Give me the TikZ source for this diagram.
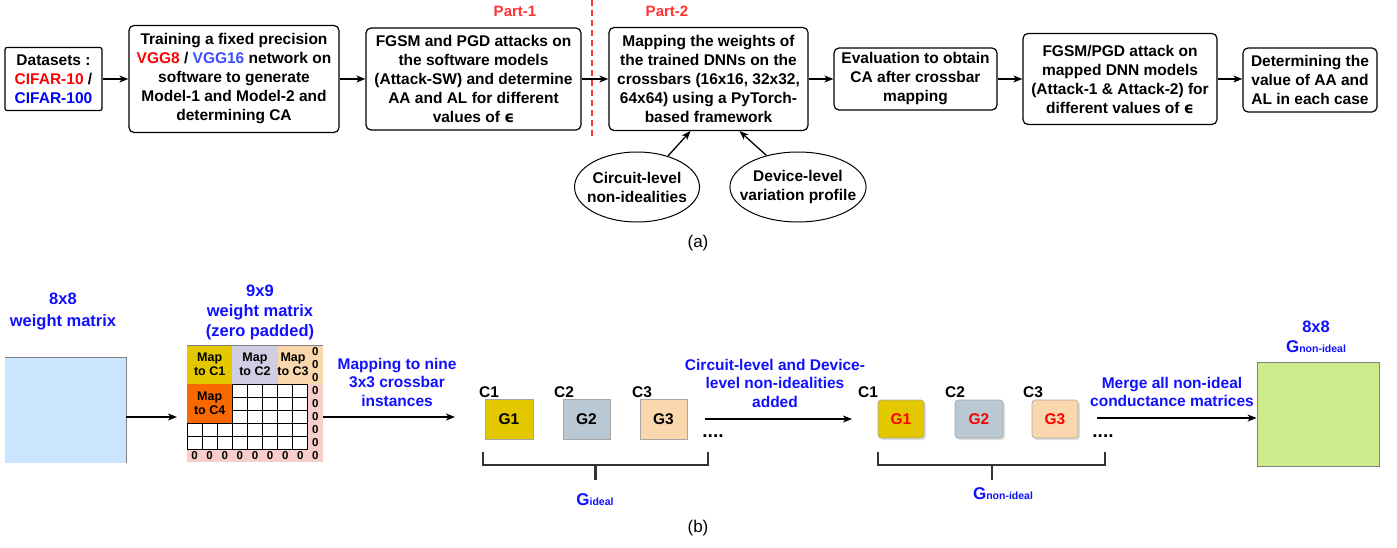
\documentclass[tikz,border=0pt]{standalone}
\usepackage{fontspec}
\setmainfont{Liberation Sans}
\newfontfamily\epsfont{DejaVu Sans}
\usetikzlibrary{arrows.meta,shapes.geometric,shadows}

\definecolor{cifarRed}{HTML}{FF0000}
\definecolor{cifarBlue}{HTML}{0000FF}
\definecolor{vggBlue}{HTML}{3D4DFF}
\definecolor{partRed}{HTML}{FF3333}
\definecolor{noteBlue}{HTML}{1010FF}
\definecolor{weightBlue}{HTML}{CCE5FF}
\definecolor{mapGold}{HTML}{E3C800}
\definecolor{mapLilac}{HTML}{D0CEE2}
\definecolor{mapPeach}{HTML}{FAD7AC}
\definecolor{mapOrange}{HTML}{FA6800}
\definecolor{padPink}{HTML}{F8CECC}
\definecolor{crossGrey}{HTML}{BAC8D3}
\definecolor{mergeGreen}{HTML}{CDEB8B}
\definecolor{braceGrey}{HTML}{333333}

\newcommand{\epsSym}{{\epsfont\bfseries ϵ}}
\newcommand{\condLabel}[1]{{\fontsize{17}{20}\selectfont G}{\fontsize{10.5}{12}\selectfont #1}}

\tikzset{
	procBox/.style={draw, line width=1.2pt, rounded corners=5pt, align=center, inner sep=0pt,
		font=\bfseries\fontsize{15.5}{19}\selectfont},
	noteEllipse/.style={draw, line width=1pt, ellipse, align=center, inner xsep=-13pt, inner ysep=6pt,
		font=\bfseries\fontsize{15.5}{19}\selectfont},
	flowArrow/.style={line width=1.3pt, -{Stealth[length=9pt,width=7pt,inset=2.5pt]}},
	partLabel/.style={text=partRed, font=\bfseries\fontsize{15}{18}\selectfont},
	capLabel/.style={font=\fontsize{17}{20}\selectfont},
	blueLabel/.style={text=noteBlue, align=center, font=\bfseries\fontsize{15.5}{18.5}\selectfont},
	mapLabel/.style={align=center, inner sep=0pt, font=\bfseries\fontsize{12.5}{14}\selectfont},
	zeroLabel/.style={inner sep=0pt, font=\bfseries\fontsize{11.5}{11.5}\selectfont},
	gridLine/.style={line width=0.8pt},
	crossBox/.style={minimum height=40pt, inner sep=0pt, draw=gray!70, line width=0.6pt,
		font=\bfseries\fontsize{15.5}{19}\selectfont},
	noisyBox/.style={crossBox, rounded corners=3pt, text=cifarRed,
		drop shadow={opacity=0.25, shadow xshift=2pt, shadow yshift=-2pt}},
	cLabel/.style={anchor=base west, inner sep=0pt, font=\bfseries\fontsize{15.5}{19}\selectfont},
	dotsLabel/.style={inner sep=0pt, font=\bfseries\fontsize{19}{19}\selectfont},
	braceLine/.style={draw=braceGrey, line width=2.4pt},
}

\begin{document}
\begin{tikzpicture}[x=1pt,y=-1pt]

	\useasboundingbox (0,0) rectangle (1397,548);

	% (a) flow
	\node[procBox, rounded corners=2pt, minimum width=97pt, minimum height=63pt] (datasets) at (53.5,79)
		{Datasets :\\\textcolor{cifarRed}{CIFAR-10} /\\\textcolor{cifarBlue}{CIFAR-100}};
	\node[procBox, minimum width=210pt, minimum height=107pt] (training) at (234,79)
		{Training a fixed precision\\\textcolor{cifarRed}{VGG8} / \textcolor{vggBlue}{VGG16} network on\\software to generate\\Model-1 and Model-2 and\\determining CA};
	\node[procBox, minimum width=215pt, minimum height=102pt] (attackSW) at (473.5,79)
		{FGSM and PGD attacks on\\the software models\\(Attack-SW) and determine\\AA and AL for different\\values of \epsSym};
	\node[procBox, minimum width=199pt, minimum height=103pt] (mapping) at (708.5,79)
		{Mapping the weights of\\the trained DNNs on the\\crossbars (16x16, 32x32,\\64x64) using a PyTorch-\\based framework};
	\node[procBox, minimum width=163pt, minimum height=62pt] (evaluation) at (915.5,79)
		{Evaluation to obtain\\CA after crossbar\\mapping};
	\node[procBox, minimum width=194pt, minimum height=91pt] (attackHW) at (1120,79)
		{FGSM/PGD attack on\\mapped DNN models\\(Attack-1 \& Attack-2) for\\different values of \epsSym};
	\node[procBox, minimum width=134pt, minimum height=64pt] (determining) at (1310,80)
		{Determining the\\value of AA and\\AL in each case};

	\draw[flowArrow] (datasets) -- (training);
	\draw[flowArrow] (training) -- (attackSW);
	\draw[flowArrow] (attackSW) -- (mapping);
	\draw[flowArrow] (mapping) -- (evaluation);
	\draw[flowArrow] (evaluation) -- (attackHW);
	\draw[flowArrow] (attackHW.east) -- (attackHW.east -| determining.west);

	\node[noteEllipse, minimum width=125pt, minimum height=70pt] (circuitLevel) at (637,187)
		{Circuit-level\\non-idealities};
	\node[noteEllipse, inner xsep=-10pt, minimum width=129pt, minimum height=70pt] (deviceLevel) at (798,187)
		{Device-level\\variation profile};
	\draw[flowArrow] (circuitLevel.45) -- ([xshift=-18pt]mapping.south);
	\draw[flowArrow] (deviceLevel.135) -- ([xshift=31pt]mapping.south);

	\draw[partRed, line width=1.6pt, dash pattern=on 6pt off 4pt] (592,0) -- (592,138);
	\node[partLabel] (partOne) at (515,11) {Part-1};
	\node[partLabel] (partTwo) at (667,11) {Part-2};

	\node[capLabel] (capA) at (698,243) {(a)};

	% (b) mapping onto crossbars
	\node[blueLabel, font=\bfseries\fontsize{16.5}{22}\selectfont] (weightTitle) at (63,311) {8x8\\weight matrix};
	\node[fill=weightBlue, minimum width=121pt, minimum height=105pt, inner sep=0pt] (weight8) at (65.5,410.5) {};
	\draw[gray, line width=0.8pt] (weight8.north west) -- (weight8.north east) -- (weight8.south east);

	\node[blueLabel, font=\bfseries\fontsize{16.5}{20}\selectfont] (paddedTitle) at (260,312) {9x9\\weight matrix\\(zero padded)};
	\node[minimum width=136pt, minimum height=117pt, inner sep=0pt] (padded) at (255,403.5) {};
	\fill[padPink] (187,345) rectangle (323,462);
	\fill[white] (187,384) rectangle (307.9,449);
	\foreach \c in {0,...,8}
		\draw[gridLine] (187+\c*15.11,384) -- (187+\c*15.11,449);
	\foreach \r in {3,...,8}
		\draw[gridLine] (187,345+\r*13) -- (307.9,345+\r*13);
	\fill[mapGold] (187,345) rectangle (232.3,384);
	\fill[mapLilac] (232.3,345) rectangle (277.7,384);
	\fill[mapPeach] (277.7,345) rectangle (323,384);
	\fill[mapOrange] (187,384) rectangle (232.3,423);
	\draw[gray, line width=0.6pt] (187,345) -- (323,345);
	\node[mapLabel] (mapC1) at (209.7,364) {Map\\to C1};
	\node[mapLabel] (mapC2) at (254.9,364) {Map\\to C2};
	\node[mapLabel] (mapC3) at (293,364) {Map\\to C3};
	\node[mapLabel] (mapC4) at (209.7,403) {Map\\to C4};
	\foreach \c in {0,...,8}
		\node[zeroLabel] at (187+\c*15.11+7.55,455.5) {0};
	\foreach \r in {0,...,7}
		\node[zeroLabel] at (315.4,345+\r*13+6.5) {0};

	\coordinate (weightOut) at (126,417);
	\coordinate (padIn) at (177,417);
	\draw[flowArrow] (weightOut) -- (padIn);

	\node[blueLabel] (mapText) at (397,382) {Mapping to nine\\3x3 crossbar\\instances};
	\coordinate (padOut) at (323,417);
	\coordinate (crossIn) at (455,417);
	\draw[flowArrow] (padOut) -- (crossIn);

	% ideal crossbars
	\node[crossBox, fill=mapGold, minimum width=48pt] (gIdealOne) at (509,419) {G1};
	\node[crossBox, fill=crossGrey, minimum width=47pt] (gIdealTwo) at (586.5,419) {G2};
	\node[crossBox, fill=mapPeach, minimum width=47pt] (gIdealThree) at (663.5,419) {G3};
	\node[cLabel] at (479,397) {C1};
	\node[cLabel] at (554,397) {C2};
	\node[cLabel] at (632,397) {C3};
	\node[dotsLabel] (dotsIdeal) at (713,436) {....};
	\draw[braceLine] (483,452) -- (483,465) -- (708,465) -- (708,452);
	\draw[braceLine] (595.5,465) -- (595.5,480);
	\node[text=noteBlue, font=\bfseries] (gIdealLabel) at (595,500) {\condLabel{ideal}};

	\node[blueLabel] (noiseText) at (775,383) {Circuit-level and Device-\\level non-idealities\\added};
	\coordinate (noiseIn) at (705,419);
	\coordinate (noiseOut) at (852,419);
	\draw[flowArrow] (noiseIn) -- (noiseOut);

	% non-ideal crossbars
	\node[noisyBox, fill=mapGold, minimum width=46pt, minimum height=38pt] (gNonOne) at (901,419) {G1};
	\node[noisyBox, fill=crossGrey, minimum width=48pt, minimum height=38pt] (gNonTwo) at (979,419) {G2};
	\node[noisyBox, fill=mapPeach, minimum width=46pt, minimum height=38pt] (gNonThree) at (1055,419) {G3};
	\node[cLabel] at (858,397) {C1};
	\node[cLabel] at (945,397) {C2};
	\node[cLabel] at (1023,397) {C3};
	\node[dotsLabel] (dotsNon) at (1103,436) {....};
	\draw[braceLine] (878,452) -- (878,465) -- (1105,465) -- (1105,452);
	\draw[braceLine] (992,465) -- (992,480);
	\node[text=noteBlue, font=\bfseries] (gNonLabel) at (1003,494) {\condLabel{non-ideal}};

	\node[blueLabel] (mergeText) at (1172,392) {Merge all non-ideal\\conductance matrices};
	\node[fill=mergeGreen, draw=gray, line width=0.8pt, minimum width=122pt, minimum height=104pt, inner sep=0pt] (mergedG) at (1318,414) {};
	\coordinate (mergeIn) at (1097,418);
	\draw[flowArrow] (mergeIn) -- (mergeIn -| mergedG.west);
	\node[blueLabel, font=\bfseries\fontsize{16.5}{20}\selectfont] (mergedTitle) at (1316,327) {8x8};
	\node[text=noteBlue, font=\bfseries] (mergedSub) at (1316,347) {\condLabel{non-ideal}};

	\node[capLabel] (capB) at (698,528) {(b)};

\end{tikzpicture}
\end{document}
